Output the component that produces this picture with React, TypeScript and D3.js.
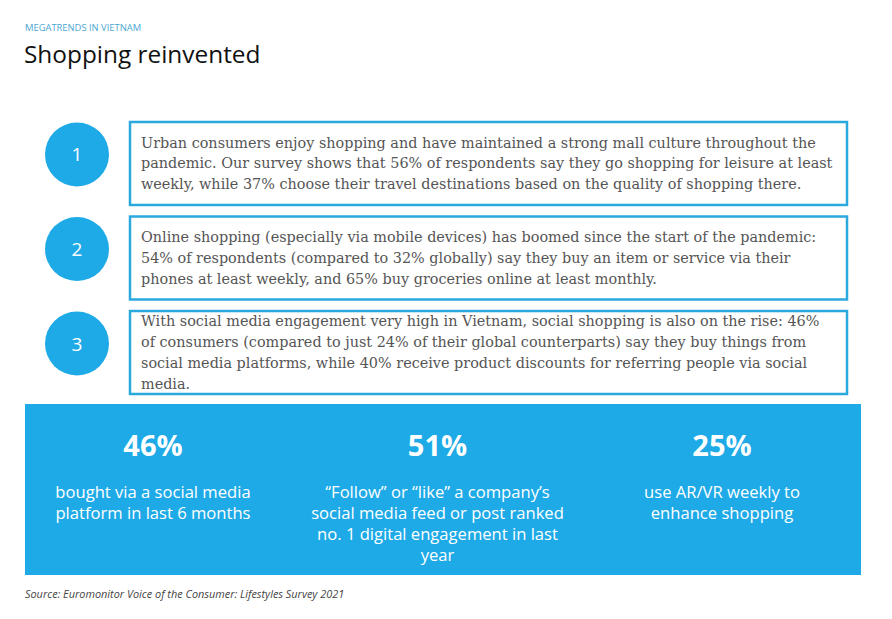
import React from "react";
import * as d3 from "d3";

const W = 892;
const H = 619;

const kicker = "MEGATRENDS IN VIETNAM";
const title = "Shopping reinvented";
const source = "Source: Euromonitor Voice of the Consumer: Lifestyles Survey 2021";

const trendNumbers = ["1", "2", "3"];
const trendLines: string[][] = [
  [
    "Urban consumers enjoy shopping and have maintained a strong mall culture throughout the",
    "pandemic. Our survey shows that 56% of respondents say they go shopping for leisure at least",
    "weekly, while 37% choose their travel destinations based on the quality of shopping there.",
  ],
  [
    "Online shopping (especially via mobile devices) has boomed since the start of the pandemic:",
    "54% of respondents (compared to 32% globally) say they buy an item or service via their",
    "phones at least weekly, and 65% buy groceries online at least monthly.",
  ],
  [
    "With social media engagement very high in Vietnam, social shopping is also on the rise: 46%",
    "of consumers (compared to just 24% of their global counterparts) say they buy things from",
    "social media platforms, while 40% receive product discounts for referring people via social",
    "media.",
  ],
];

const statValues = [46, 51, 25];
const statLabels: string[][] = [
  ["bought via a social media", "platform in last 6 months"],
  ["\u201CFollow\u201D or \u201Clike\u201D a company\u2019s", "social media feed or post ranked", "no. 1 digital engagement in last", "year"],
  ["use AR/VR weekly to", "enhance shopping"],
];

const BLUE = "#1eaae7";
const BOX_STROKE = "#2ba8dd";
const GRAY = "#555555";
const SANS = "'Open Sans', Lato, sans-serif";
const SERIF = "'DejaVu Serif', serif";

export default function App() {
  const rowScale = d3
    .scaleBand<string>()
    .domain(trendNumbers)
    .range([122, 394])
    .paddingInner(0.122);

  const panel = { x: 25, y: 404, w: 836, h: 171 };
  const colScale = d3
    .scalePoint<number>()
    .domain(d3.range(statValues.length))
    .range([153, 722]);

  const boxX = 130;
  const boxW = 717;
  const lineH = 20.9;
  const fmt = (v: number) => `${v}%`;

  return (
    <svg
      width={W}
      height={H}
      viewBox={`0 0 ${W} ${H}`}
      style={{ position: "absolute", left: 0, top: 0, background: "#fff" }}
    >
      <rect x={0} y={0} width={W} height={H} fill="#fff" />
      <text x={25} y={31} fontFamily={SANS} fontSize={9.4} fill="#4aa7d2">
        {kicker}
      </text>
      <text x={24} y={63} fontFamily={SANS} fontSize={24.4} fill="#111">
        {title}
      </text>

      {trendNumbers.map((n, i) => {
        const y0 = rowScale(n)!;
        const bh = rowScale.bandwidth();
        const cy = y0 + bh / 2 - 9;
        const lines = trendLines[i];
        const mid = y0 + bh / 2;
        const startY = mid - ((lines.length - 1) * lineH) / 2;
        return (
          <g key={n}>
            <circle cx={77} cy={cy} r={32} fill={BLUE} />
            <text
              x={77}
              y={cy}
              textAnchor="middle"
              dominantBaseline="central"
              fontFamily={SANS}
              fontSize={19}
              fill="#fff"
            >
              {n}
            </text>
            <rect
              x={boxX}
              y={y0}
              width={boxW}
              height={bh}
              fill="#fff"
              stroke={BOX_STROKE}
              strokeWidth={2.5}
            />
            {lines.map((l, j) => (
              <text
                key={j}
                x={141}
                y={startY + j * lineH}
                dominantBaseline="central"
                fontFamily={SERIF}
                fontSize={14.4}
                fill={GRAY}
              >
                {l}
              </text>
            ))}
          </g>
        );
      })}

      <rect x={panel.x} y={panel.y} width={panel.w} height={panel.h} fill={BLUE} />
      {statValues.map((v, i) => {
        const cx = colScale(i)!;
        return (
          <g key={i}>
            <text
              x={cx}
              y={444}
              textAnchor="middle"
              dominantBaseline="central"
              fontFamily={SANS}
              fontWeight={700}
              fontSize={29}
              fill="#fff"
            >
              {fmt(v)}
            </text>
            {statLabels[i].map((l, j) => (
              <text
                key={j}
                x={cx}
                y={491 + j * 21}
                textAnchor="middle"
                dominantBaseline="central"
                fontFamily={SANS}
                fontSize={16.6}
                fill="#fff"
              >
                {l}
              </text>
            ))}
          </g>
        );
      })}

      <text x={25} y={598} fontFamily={SANS} fontStyle="italic" fontSize={10.9} fill="#444">
        {source}
      </text>
    </svg>
  );
}
